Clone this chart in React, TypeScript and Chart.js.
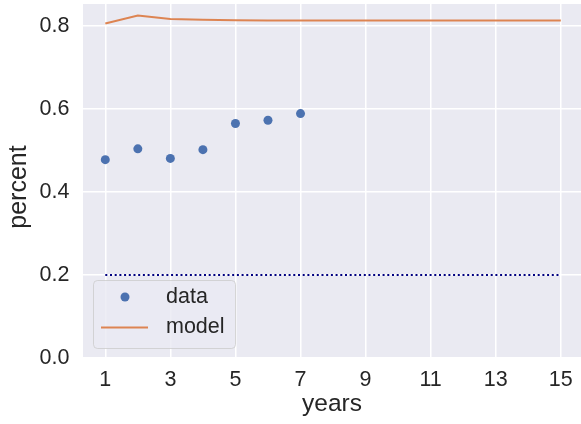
import React, { useEffect, useRef } from "react";
import { Chart, registerables } from "chart.js";

Chart.register(...registerables);

const dataYears = [1, 2, 3, 4, 5, 6, 7];
const dataValues = [0.478, 0.504, 0.481, 0.502, 0.565, 0.573, 0.589];
const modelYears = [1, 2, 3, 4, 5, 6, 7, 8, 9, 10, 11, 12, 13, 14, 15];
const modelValues = [0.806, 0.825, 0.817, 0.815, 0.814, 0.8135, 0.813, 0.813, 0.813, 0.813, 0.813, 0.813, 0.813, 0.813, 0.813];
const baselineYears = [1, 15];
const baselineValues = [0.2, 0.2];
const xTickValues = [1, 3, 5, 7, 9, 11, 13, 15];
const yTickValues = [0, 0.2, 0.4, 0.6, 0.8];
const xTitle = "years";
const yTitle = "percent";

const FONT = "'Liberation Sans', Arial, sans-serif";
const TEXT = "#262626";
const TICK_SIZE = 21.5;

const bgPlugin = {
  id: "bgPlugin",
  beforeDraw(chart: any) {
    const { ctx, chartArea } = chart;
    ctx.save();
    ctx.fillStyle = "#EAEAF2";
    ctx.fillRect(chartArea.left, chartArea.top, chartArea.right - chartArea.left, chartArea.bottom - chartArea.top);
    ctx.restore();
  },
};

const yTitlePlugin = {
  id: "yTitle",
  afterDraw(chart: any) {
    const { ctx, chartArea } = chart;
    ctx.save();
    ctx.translate(19.6, (chartArea.top + chartArea.bottom) / 2 + 6);
    ctx.rotate(-Math.PI / 2);
    ctx.fillStyle = TEXT;
    ctx.font = `25px ${FONT}`;
    ctx.textAlign = "center";
    ctx.textBaseline = "middle";
    ctx.fillText(yTitle, 0, 0);
    ctx.restore();
  },
};

const legendPlugin = {
  id: "customLegend",
  afterDraw(chart: any) {
    const { ctx, chartArea } = chart;
    const ds = chart.data.datasets;
    const x0 = chartArea.left + 10.5;
    const y0 = chartArea.bottom - 77.5;
    const w = 142;
    const h = 68;
    ctx.save();
    ctx.beginPath();
    ctx.roundRect(x0, y0, w, h, 4);
    ctx.fillStyle = "rgba(234,234,242,0.8)";
    ctx.fill();
    ctx.strokeStyle = "rgba(204,204,204,0.8)";
    ctx.lineWidth = 1;
    ctx.stroke();
    ctx.beginPath();
    ctx.arc(x0 + 31.5, y0 + 16.5, 4.5, 0, Math.PI * 2);
    ctx.fillStyle = ds[0].backgroundColor;
    ctx.fill();
    ctx.beginPath();
    ctx.moveTo(x0 + 7.5, y0 + 47);
    ctx.lineTo(x0 + 54.5, y0 + 47);
    ctx.strokeStyle = ds[1].borderColor;
    ctx.lineWidth = 2;
    ctx.stroke();
    ctx.fillStyle = TEXT;
    ctx.font = `21.5px ${FONT}`;
    ctx.textBaseline = "middle";
    ctx.textAlign = "left";
    ctx.fillText(ds[0].label, x0 + 72.5, y0 + 16.5);
    ctx.fillText(ds[1].label, x0 + 72.5, y0 + 47);
    ctx.restore();
  },
};

export default function App() {
  const ref = useRef<HTMLCanvasElement>(null);
  useEffect(() => {
    if (!ref.current) return;
    const chart = new Chart(ref.current, {
      type: "scatter",
      data: {
        datasets: [
          {
            label: "data",
            data: dataYears.map((x, i) => ({ x, y: dataValues[i] })),
            backgroundColor: "#4C72B0",
            borderWidth: 0,
            pointRadius: 4.5,
            pointHoverRadius: 4.5,
          },
          {
            label: "model",
            data: modelYears.map((x, i) => ({ x, y: modelValues[i] })),
            showLine: true,
            borderColor: "#DD8452",
            backgroundColor: "#DD8452",
            borderWidth: 2,
            pointRadius: 0,
          },
          {
            label: "baseline",
            data: baselineYears.map((x, i) => ({ x, y: baselineValues[i] })),
            showLine: true,
            borderColor: "#000080",
            borderWidth: 2,
            borderDash: [2, 2.7],
            pointRadius: 0,
          },
        ],
      },
      options: {
        animation: false,
        responsive: false,
        events: [],
        layout: { autoPadding: false, padding: { top: 4, right: 0, left: 0, bottom: 0 } },
        plugins: { legend: { display: false }, tooltip: { enabled: false } },
        scales: {
          x: {
            type: "linear",
            min: 0.315,
            max: 15.62,
            afterBuildTicks: (scale: any) => {
              scale.ticks = xTickValues.map((v) => ({ value: v }));
            },
            afterFit: (scale: any) => {
              scale.height = 66;
              scale.paddingLeft = 0;
              scale.paddingRight = 0;
            },
            grid: { color: "#FFFFFF", lineWidth: 1.5, drawTicks: false },
            border: { display: false },
            ticks: {
              padding: 9,
              color: TEXT,
              font: { family: FONT, size: TICK_SIZE },
              callback: (v: any) => String(v),
              maxRotation: 0,
              autoSkip: false,
            },
            title: {
              display: true,
              text: xTitle,
              color: TEXT,
              font: { family: FONT, size: 24.5 },
              padding: { top: 0, bottom: 5 },
            },
          },
          y: {
            type: "linear",
            min: 0,
            max: 0.853,
            afterBuildTicks: (scale: any) => {
              scale.ticks = yTickValues.map((v) => ({ value: v }));
            },
            afterFit: (scale: any) => {
              scale.width = 83;
              scale.paddingTop = 0;
              scale.paddingBottom = 0;
            },
            grid: { color: "#FFFFFF", lineWidth: 1.5, drawTicks: false },
            border: { display: false },
            ticks: {
              padding: 13.5,
              color: TEXT,
              font: { family: FONT, size: TICK_SIZE },
              callback: (v: any) => Number(v).toFixed(1),
            },
            title: { display: false },
          },
        },
      },
      plugins: [bgPlugin, legendPlugin, yTitlePlugin],
    });
    return () => chart.destroy();
  }, []);
  return (
    <div style={{ position: "fixed", left: 0, top: 0, width: 581, height: 424, background: "#fff" }}>
      <canvas ref={ref} width={581} height={424} style={{ display: "block", width: 581, height: 424 }} />
    </div>
  );
}
